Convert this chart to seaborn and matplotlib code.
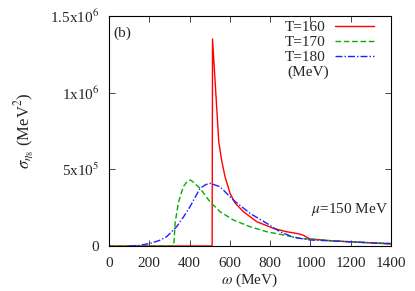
import matplotlib
matplotlib.use("Agg")
import matplotlib.pyplot as plt
import seaborn as sns
import numpy as np
from matplotlib.lines import Line2D

# data (omega in MeV, sigma in MeV^2)
w160 = [0, 510, 512, 514, 545, 559, 576, 601, 626, 667, 733, 816, 882, 940, 965, 985, 998, 1114, 1280, 1400]
s160 = [0, 0, 0, 1.35e6, 0.68e6, 0.56e6, 0.452e6, 0.344e6, 0.28e6, 0.224e6, 0.159e6, 0.115e6, 0.093e6, 0.08e6, 0.07e6, 0.055e6, 0.046e6, 0.033e6, 0.022e6, 0.013e6]

w170 = [0, 318, 323, 328, 344, 369, 390, 405, 420, 452, 501, 551, 617, 700, 783, 866, 948, 1114, 1280, 1400]
s170 = [0, 0, 0.03e6, 0.148e6, 0.28e6, 0.387e6, 0.425e6, 0.43e6, 0.415e6, 0.376e6, 0.289e6, 0.224e6, 0.17e6, 0.126e6, 0.093e6, 0.072e6, 0.05e6, 0.033e6, 0.022e6, 0.017e6]

w180 = [100, 150, 204, 250, 286, 336, 370, 402, 452, 480, 501, 551, 617, 700, 783, 849, 915, 998, 1114, 1280, 1400]
s180 = [0, 0.004e6, 0.017e6, 0.036e6, 0.06e6, 0.126e6, 0.19e6, 0.256e6, 0.376e6, 0.40e6, 0.409e6, 0.387e6, 0.30e6, 0.213e6, 0.148e6, 0.093e6, 0.057e6, 0.039e6, 0.033e6, 0.022e6, 0.015e6]

xticks = [0, 200, 400, 600, 800, 1000, 1200, 1400]
yticks = [0, 5e5, 1e6, 1.5e6]
ytick_labels = ["0", r"5x10$^5$", r"1x10$^6$", r"1.5x10$^6$"]
series_labels = ["T=160", "T=170", "T=180"]

sns.set_theme(style="ticks")
plt.rcParams["font.family"] = ["Liberation Serif", "DejaVu Serif"]
plt.rcParams["mathtext.fontset"] = "stix"

fig = plt.figure(figsize=(4.15, 2.91), dpi=100)
ax = fig.add_axes([109/415, 1 - 246/291, (391-109)/415, (246-16)/291])

sns.lineplot(x=w160, y=s160, ax=ax, color="#ff0000", lw=1.0, sort=False, estimator=None)
sns.lineplot(x=w170, y=s170, ax=ax, color="#00b000", lw=1.0, sort=False, estimator=None, linestyle=(0, (4, 2)))
sns.lineplot(x=w180, y=s180, ax=ax, color="#2020ff", lw=1.0, sort=False, estimator=None, linestyle=(0, (5, 1.5, 1, 1.5)))

ax.set_xlim(0, 1400)
ax.set_ylim(0, 1.5e6)
ax.set_xticks(xticks)
ax.set_xticklabels([str(t) for t in xticks], fontsize=11)
ax.set_yticks(yticks)
ax.set_yticklabels(ytick_labels, fontsize=11)
ax.tick_params(direction="in", top=True, right=True, length=4, width=0.6)
ax.tick_params(axis="x", pad=8)
ax.tick_params(axis="y", pad=7)
for s in ax.spines.values():
    s.set_linewidth(0.8)
    s.set_color("black")

ax.set_xlabel(r"$\omega$ (MeV)", fontsize=11, labelpad=1)
ax.set_ylabel(r"$\sigma_{\eta_8}$ (MeV$^2$)", fontsize=12, labelpad=10)

handles = [
    Line2D([], [], color="#ff0000", lw=1.0),
    Line2D([], [], color="#00b000", lw=1.0, linestyle=(0, (4, 2))),
    Line2D([], [], color="#2020ff", lw=1.0, linestyle=(0, (5, 1.5, 1, 1.5))),
]
leg = ax.legend(handles, series_labels, loc="upper right", markerfirst=False, frameon=False,
                fontsize=11, handlelength=2.55, handletextpad=0.6, labelspacing=0.08,
                borderaxespad=0.0, borderpad=0.0, bbox_to_anchor=(0.94, 0.98))
ax.text(0.706, 0.755, "(MeV)", transform=ax.transAxes, fontsize=11, ha="center", va="center")
ax.text(0.015, 0.926, "(b)", transform=ax.transAxes, fontsize=11, ha="left", va="center")
ax.text(0.715, 0.16, r"$\mu$=150 MeV", transform=ax.transAxes, fontsize=11, ha="left", va="center")

fig.savefig("out.png", dpi=100)
